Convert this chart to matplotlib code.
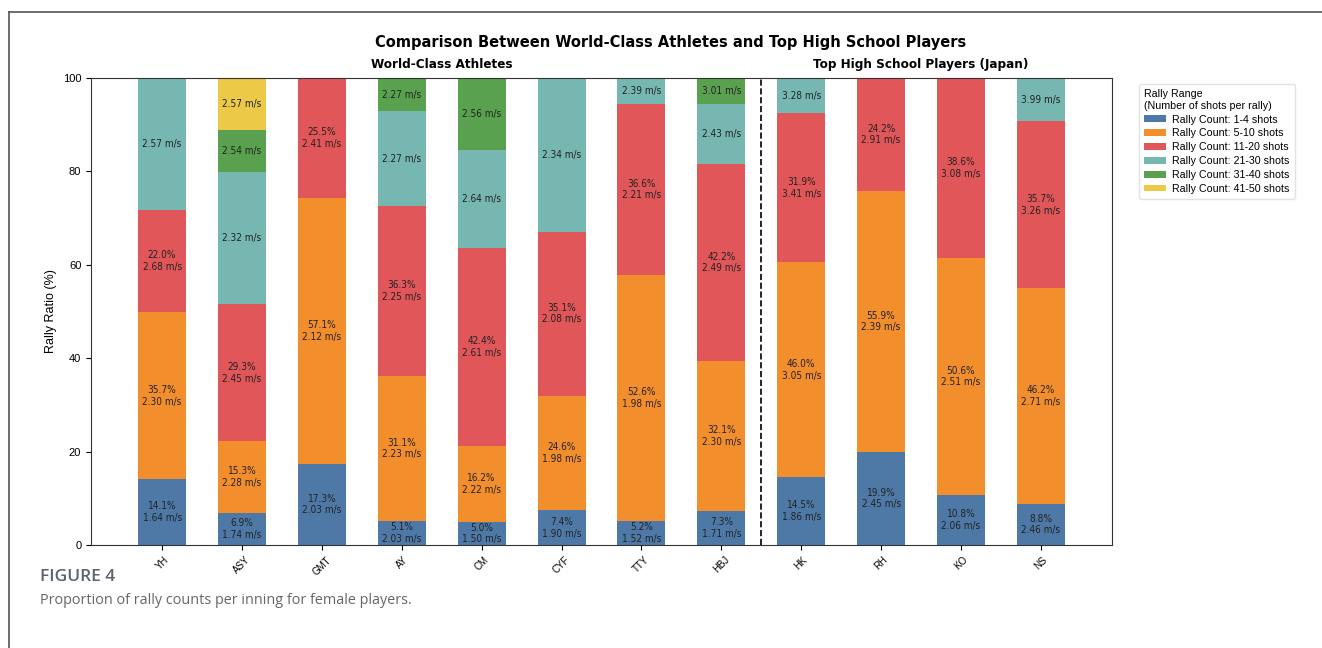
import matplotlib
matplotlib.use('Agg')
import matplotlib.pyplot as plt
from matplotlib.lines import Line2D
import numpy as np

plt.rcParams['font.family'] = ['Liberation Sans', 'DejaVu Sans']

players = ['YH', 'ASY', 'GMT', 'AY', 'CM', 'CYF', 'TTY', 'HBJ', 'HK', 'RH', 'KO', 'NS']
ranges = ['Rally Count: 1-4 shots', 'Rally Count: 5-10 shots', 'Rally Count: 11-20 shots',
          'Rally Count: 21-30 shots', 'Rally Count: 31-40 shots', 'Rally Count: 41-50 shots']
colors = ['#4e79a7', '#f28e2b', '#e15759', '#76b7b2', '#59a14f', '#edc948']

# percent of rallies per range (rows = ranges, cols = players)
r1_4   = [14.1, 6.9, 17.3, 5.1, 5.0, 7.4, 5.2, 7.3, 14.5, 19.9, 10.8, 8.8]
r5_10  = [35.7, 15.3, 57.1, 31.1, 16.2, 24.6, 52.6, 32.1, 46.0, 55.9, 50.6, 46.2]
r11_20 = [22.0, 29.3, 25.5, 36.3, 42.4, 35.1, 36.6, 42.2, 31.9, 24.2, 38.6, 35.7]
r21_30 = [28.2, 28.4, 0, 20.4, 21.0, 32.9, 5.6, 12.8, 7.6, 0, 0, 9.3]
r31_40 = [0, 9.0, 0, 7.1, 15.4, 0, 0, 5.6, 0, 0, 0, 0]
r41_50 = [0, 11.1, 0, 0, 0, 0, 0, 0, 0, 0, 0, 0]

# mean shuttle speed (m/s), None = no rallies in range
s1_4   = [1.64, 1.74, 2.03, 2.03, 1.50, 1.90, 1.52, 1.71, 1.86, 2.45, 2.06, 2.46]
s5_10  = [2.30, 2.28, 2.12, 2.23, 2.22, 1.98, 1.98, 2.30, 3.05, 2.39, 2.51, 2.71]
s11_20 = [2.68, 2.45, 2.41, 2.25, 2.61, 2.08, 2.21, 2.49, 3.41, 2.91, 3.08, 3.26]
s21_30 = [2.57, 2.32, None, 2.27, 2.64, 2.34, 2.39, 2.43, 3.28, None, None, 3.99]
s31_40 = [None, 2.54, None, 2.27, 2.56, None, None, 3.01, None, None, None, None]
s41_50 = [None, 2.57, None, None, None, None, None, None, None, None, None, None]

pcts = [r1_4, r5_10, r11_20, r21_30, r31_40, r41_50]
speeds = [s1_4, s5_10, s11_20, s21_30, s31_40, s41_50]

fig = plt.figure(figsize=(13.22, 6.48), dpi=100)
ax = fig.add_axes([91/1322, 1 - 545/648, 1021/1322, 467/648])

x = np.arange(len(players))
bottom = np.zeros(len(players))
for i in range(len(ranges)):
    vals = np.array(pcts[i])
    ax.bar(x, vals, 0.6, bottom=bottom, color=colors[i], label=ranges[i])
    for j in range(len(players)):
        if vals[j] > 0:
            if i < 3:
                txt = '%.1f%%\n%.2f m/s' % (vals[j], speeds[i][j])
            else:
                txt = '%.2f m/s' % speeds[i][j]
            ax.text(x[j], bottom[j] + vals[j] / 2, txt, ha='center', va='center',
                    fontsize=7.2, color='#222222', linespacing=1.2,
                    family='DejaVu Sans', fontstretch='condensed')
    bottom += vals

ax.axvline(7.5, color='black', linestyle='--', linewidth=1.2)
ax.set_xlim(-0.89, 11.89)
ax.set_ylim(0, 100)
ax.set_xticks(x)
ax.set_xticklabels(players, rotation=45, fontsize=7)
ax.tick_params(axis='y', labelsize=8)
ax.set_ylabel('Rally Ratio (%)', fontsize=9)
for s in ax.spines.values():
    s.set_color('#333333')

ax.text(3.5, 101.5, 'World-Class Athletes', ha='center', va='bottom',
        fontsize=9.6, fontweight='bold', family='DejaVu Sans', fontstretch='condensed')
ax.text(9.5, 101.5, 'Top High School Players (Japan)', ha='center', va='bottom',
        fontsize=9.6, fontweight='bold', family='DejaVu Sans', fontstretch='condensed')
fig.text(671/1322, 1 - 42/648, 'Comparison Between World-Class Athletes and Top High School Players',
         ha='center', va='center', fontsize=11.7, fontweight='bold',
         family='DejaVu Sans', fontstretch='condensed')

leg = ax.legend(title='Rally Range\n(Number of shots per rally)', loc='upper left',
                bbox_to_anchor=(1.021, 0.998), fontsize=7.7, title_fontsize=7.7,
                frameon=True, handlelength=2.1, handleheight=0.6, borderpad=0.45,
                labelspacing=0.36, handletextpad=0.6)
leg._legend_box.align = 'left'
leg.get_frame().set_edgecolor('#dddddd')

# page frame and caption
fig.add_artist(Line2D([9/1322, 9/1322], [0, 1 - 12/648], transform=fig.transFigure,
                      color='#555555', linewidth=1.2))
fig.add_artist(Line2D([9/1322, 1], [1 - 12/648, 1 - 12/648], transform=fig.transFigure,
                      color='#555555', linewidth=1.2))
fig.text(40/1322, 1 - 577/648, 'FIGURE 4', ha='left', va='center', fontsize=12.5,
         color='#5a6270', family='Open Sans', fontweight='semibold')
fig.text(40/1322, 1 - 600/648, 'Proportion of rally counts per inning for female players.',
         ha='left', va='center', fontsize=10.4, color='#666666', family='Open Sans')

fig.savefig('out.png', dpi=100)
